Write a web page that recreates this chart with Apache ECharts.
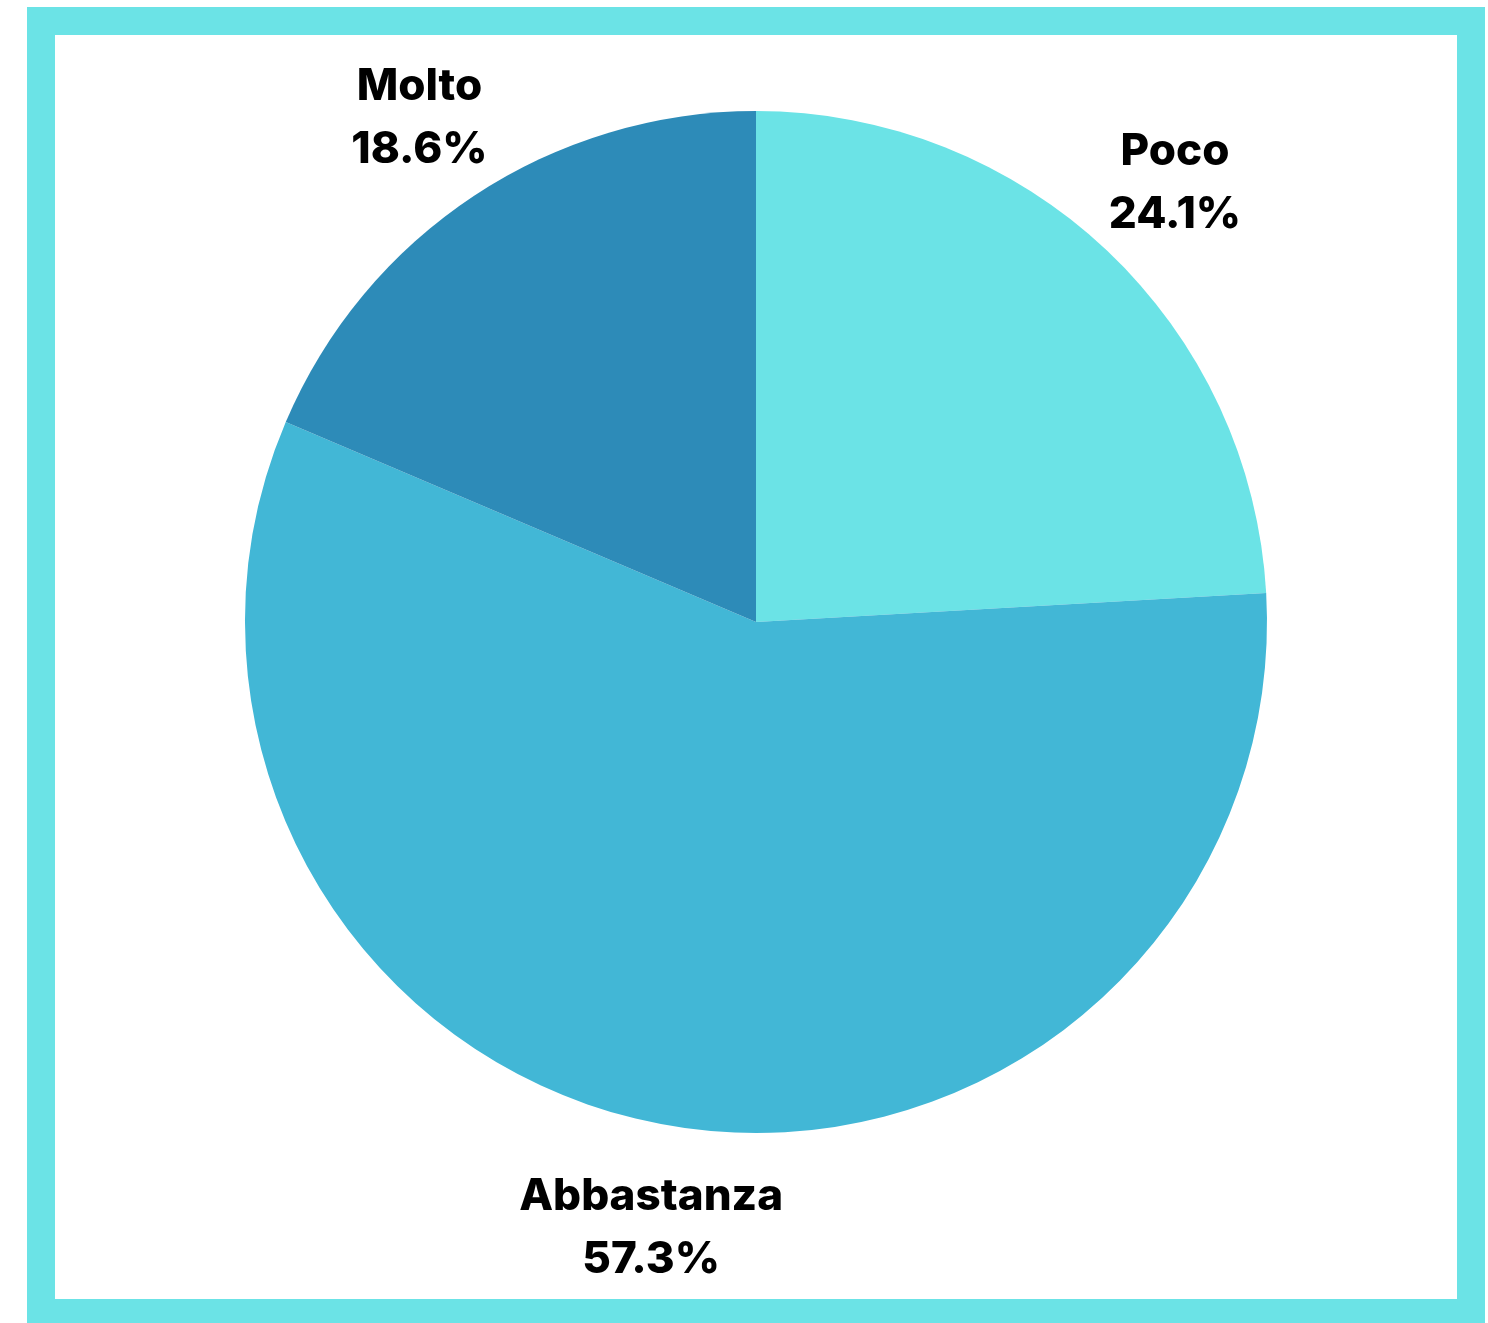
<!DOCTYPE html>
<html>
<head>
<meta charset="utf-8">
<script src="https://cdn.jsdelivr.net/npm/echarts@6/dist/echarts.min.js"></script>
<style>
  html, body { margin: 0; padding: 0; background: #fff; overflow: hidden; }
  #frame {
    position: absolute; left: 27px; top: 7px;
    width: 1402px; height: 1264px;
    border: 28px solid #6BE3E6; border-bottom-width: 25px;
  }
  #chart { position: absolute; left: 0; top: 0; width: 1488px; height: 1323px; }
</style>
</head>
<body>
<div id="frame"></div>
<div id="chart"></div>
<script>
// risposte
const categories = ['Poco', 'Abbastanza', 'Molto'];
const values = [24.1, 57.3, 18.6];
const colors = ['#6BE3E6', '#42B7D6', '#2D8BB8'];

const pieData = categories.map((name, i) => ({
  name: name,
  value: values[i],
  itemStyle: { color: colors[i] }
}));

// anello trasparente solo per le etichette, centrate fuori dalla torta
const labelData = categories.map((name, i) => ({ name: name, value: values[i] }));

const chart = echarts.init(document.getElementById('chart'));
chart.setOption({
  animation: false,
  series: [
    {
      type: 'pie',
      center: [756, 622],
      radius: [0, 511],
      startAngle: 90,
      clockwise: true,
      data: pieData,
      label: { show: false },
      labelLine: { show: false },
      emphasis: { disabled: true }
    },
    {
      type: 'pie',
      center: [756, 622],
      radius: [600, 614],
      startAngle: 90,
      clockwise: true,
      silent: true,
      percentPrecision: 1,
      data: labelData,
      itemStyle: { color: 'transparent' },
      label: {
        show: true,
        position: 'inside',
        rotate: 0,
        offset: [0, 5],
        formatter: '{b}\n{d}%',
        color: '#000',
        fontFamily: 'Inter',
        fontWeight: 800,
        fontSize: 44,
        lineHeight: 63,
        align: 'center'
      },
      labelLine: { show: false },
      emphasis: { disabled: true }
    }
  ]
});
</script>
</body>
</html>
